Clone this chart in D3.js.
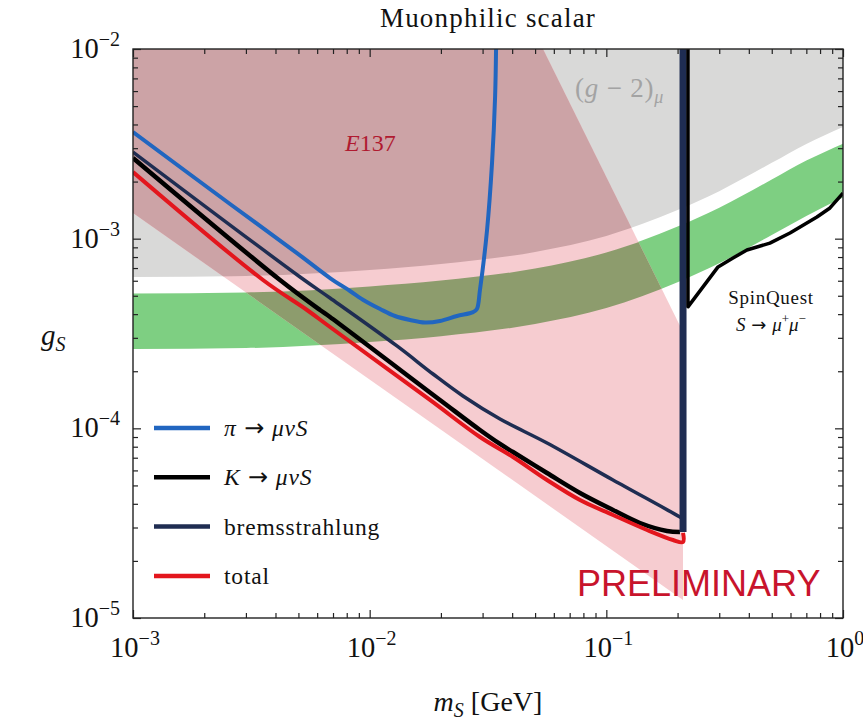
<!DOCTYPE html>
<html>
<head>
<meta charset="utf-8">
<script src="https://cdn.jsdelivr.net/npm/d3@7"></script>
<style>
  body { margin: 0; background: #ffffff; }
  svg { display: block; }
</style>
</head>
<body>
<svg id="chart" width="863" height="720" font-family="Liberation Serif, serif"></svg>
<script>
// ---------------- data ----------------
// (g-2)_mu: excluded region edge and favoured band, sampled in scalar mass [GeV]
const bandMass     = [1e-3, 3e-3, 1e-2, 2e-2, 5e-2, 0.1, 0.2, 0.3, 0.5, 0.7, 1.0];
const gm2Excluded  = [6.28e-4, 6.36e-4, 6.84e-4, 7.35e-4, 8.51e-4, 1.033e-3, 1.416e-3, 1.78e-3, 2.51e-3, 3.16e-3, 3.88e-3];
const gm2BandHigh  = [5.14e-4, 5.20e-4, 5.60e-4, 6.01e-4, 6.96e-4, 8.45e-4, 1.158e-3, 1.456e-3, 2.05e-3, 2.58e-3, 3.17e-3];
const gm2BandLow   = [2.62e-4, 2.65e-4, 2.85e-4, 3.06e-4, 3.55e-4, 4.31e-4, 5.90e-4, 7.42e-4, 1.047e-3, 1.318e-3, 1.65e-3];

// E137 beam-dump exclusion (polygon)
const e137Mass     = [1e-3, 5.40e-2, 0.2109, 0.2109, 1e-3];
const e137Coupling = [1e-2, 1e-2, 3.22e-4, 1.245e-5, 1.365e-3];

// projected sensitivities
const pionMass = [1e-3, 2.57e-3, 4.93e-3, 6.80e-3, 8.26e-3, 9.56e-3, 1.107e-2, 1.279e-2, 1.481e-2, 1.713e-2,
                  1.982e-2, 2.339e-2, 2.735e-2, 2.838e-2, 2.924e-2, 3.133e-2, 3.289e-2, 3.388e-2, 3.42e-2];
const pionCoupling = [3.65e-3, 1.523e-3, 8.40e-4, 6.20e-4, 5.30e-4, 4.69e-4, 4.257e-4, 3.911e-4, 3.726e-4, 3.614e-4,
                      3.681e-4, 3.911e-4, 4.10e-4, 4.257e-4, 5.36e-4, 1.11e-3, 2.51e-3, 5.58e-3, 1e-2];

const kaonMass = [1e-3, 4.18e-3, 6.17e-3, 6.80e-3, 1.982e-2, 2.925e-2, 3.554e-2, 4.033e-2, 5.616e-2,
                  7.740e-2, 0.1067, 0.1387, 0.1804, 0.2047];
const kaonCoupling = [2.663e-3, 6.055e-4, 4.206e-4, 3.864e-4, 1.411e-4, 9.80e-5, 8.27e-5, 7.50e-5, 5.813e-5,
                      4.562e-5, 3.711e-5, 3.168e-5, 2.875e-5, 2.84e-5];

const bremsMass = [1e-3, 5.08e-3, 6.80e-3, 1.304e-2, 1.852e-2, 2.479e-2, 3.554e-2, 5.616e-2, 0.1067, 0.2047, 0.2109];
const bremsCoupling = [2.863e-3, 6.28e-4, 4.866e-4, 2.718e-4, 1.934e-4, 1.481e-4, 1.120e-4, 8.369e-5,
                       5.341e-5, 3.408e-5, 3.327e-5];
// kinematic edge at m_S = 2 m_mu
const thresholdMass = [0.2109, 0.2109];
const thresholdCoupling = [2.84e-5, 1e-2];

const totalMass = [1e-3, 3.542e-3, 5.435e-3, 6.80e-3, 1.798e-2, 2.925e-2, 4.033e-2, 5.616e-2, 7.740e-2,
                   0.1067, 0.1485, 0.1913, 0.2109, 0.2109];
const totalCoupling = [2.246e-3, 6.055e-4, 4.206e-4, 3.422e-4, 1.411e-4, 9.00e-5, 7.063e-5, 5.341e-5, 4.19e-5,
                       3.493e-5, 2.911e-5, 2.577e-5, 2.515e-5, 2.807e-5];

// SpinQuest S -> mu+ mu-
const spinQuestMass = [0.2213, 0.2213, 0.2965, 0.3428, 0.3926, 0.4909, 0.597, 0.776, 0.881, 1.0];
const spinQuestCoupling = [1e-2, 4.37e-4, 7.10e-4, 7.91e-4, 8.71e-4, 9.48e-4, 1.072e-3, 1.30e-3, 1.452e-3, 1.74e-3];

// axis ticks
const xMajor = [1e-3, 1e-2, 1e-1, 1];
const yMajor = [1e-5, 1e-4, 1e-3, 1e-2];
const xTickExp = [-3, -2, -1, 0];
const yTickExp = [-5, -4, -3, -2];

// ---------------- layout ----------------
const plot = { left: 133, right: 843, top: 49, bottom: 618 };
const x = d3.scaleLog().domain([1e-3, 1]).range([plot.left, plot.right]);
const y = d3.scaleLog().domain([1e-5, 1e-2]).range([plot.bottom, plot.top]);

const colors = {
  gray: "#d9d9d8", green: "#7ecf82", pink: "#f6ccd0", mauve: "#cca3a6", olive: "#8d9c6d",
  pion: "#2166c0", kaon: "#000000", brems: "#1f2d52", total: "#e3161d"
};

const svg = d3.select("#chart");
svg.append("rect").attr("width", 863).attr("height", 720).attr("fill", "#ffffff");
const defs = svg.append("defs");
defs.append("clipPath").attr("id", "plotClip").append("rect")
  .attr("x", plot.left).attr("y", plot.top)
  .attr("width", plot.right - plot.left).attr("height", plot.bottom - plot.top);

const smooth = d3.line().x(d => x(d[0])).y(d => y(d[1])).curve(d3.curveCatmullRom.alpha(0.5));
const straight = d3.line().x(d => x(d[0])).y(d => y(d[1]));
const closedLine = d3.line().x(d => x(d[0])).y(d => y(d[1])).curve(d3.curveLinearClosed);

const e137Pts = d3.zip(e137Mass, e137Coupling);
defs.append("clipPath").attr("id", "e137Clip").append("path").attr("d", closedLine(e137Pts));

const excludedPts = d3.zip(bandMass, gm2Excluded);
const bandPts = d3.zip(bandMass, gm2BandLow, gm2BandHigh);

const gm2Area = d3.area().x(d => x(d[0])).y0(d => y(d[1])).y1(y(1e-2) - 5).curve(d3.curveMonotoneX);
const bandArea = d3.area().x(d => x(d[0])).y0(d => y(d[1])).y1(d => y(d[2])).curve(d3.curveMonotoneX);

const regions = svg.append("g").attr("clip-path", "url(#plotClip)");
regions.append("path").attr("d", gm2Area(excludedPts)).attr("fill", colors.gray);
regions.append("path").attr("d", bandArea(bandPts)).attr("fill", colors.green);
regions.append("path").attr("d", closedLine(e137Pts)).attr("fill", colors.pink);
const overlap = regions.append("g").attr("clip-path", "url(#e137Clip)");
overlap.append("path").attr("d", gm2Area(excludedPts)).attr("fill", colors.mauve);
overlap.append("path").attr("d", bandArea(bandPts)).attr("fill", colors.olive);

// ---------------- curves ----------------
const curves = svg.append("g").attr("clip-path", "url(#plotClip)")
  .attr("fill", "none").attr("stroke-linejoin", "round").attr("stroke-linecap", "butt");

const series = [
  { key: "pion", mass: pionMass, coupling: pionCoupling, color: colors.pion, width: 4,
    label: [["π", "i"], [" → ", "a"], ["μνS", "i"]] },
  { key: "kaon", mass: kaonMass, coupling: kaonCoupling, color: colors.kaon, width: 4.5,
    label: [["K", "i"], [" → ", "a"], ["μνS", "i"]] },
  { key: "brems", mass: bremsMass, coupling: bremsCoupling, color: colors.brems, width: 3.5,
    label: [["bremsstrahlung", "r"]] },
  { key: "total", mass: totalMass, coupling: totalCoupling, color: colors.total, width: 4,
    label: [["total", "r"]] }
];

series.forEach(s => {
  curves.append("path").attr("d", smooth(d3.zip(s.mass, s.coupling)))
    .attr("stroke", s.color).attr("stroke-width", s.width);
  if (s.key === "brems") {
    curves.append("path").attr("d", straight(d3.zip(thresholdMass, thresholdCoupling)))
      .attr("stroke", colors.brems).attr("stroke-width", 7);
  }
});

curves.append("path").attr("d", straight(d3.zip(spinQuestMass, spinQuestCoupling)))
  .attr("stroke", "#000").attr("stroke-width", 3.5);

// ---------------- frame & ticks ----------------
const frame = svg.append("g");
frame.append("rect").attr("x", plot.left).attr("y", plot.top)
  .attr("width", plot.right - plot.left).attr("height", plot.bottom - plot.top)
  .attr("fill", "none").attr("stroke", "#222").attr("stroke-width", 1.4);

function minorTicks(majors) {
  const out = [];
  majors.slice(0, -1).forEach(m => { for (let k = 2; k <= 9; k++) out.push(m * k); });
  return out;
}
const xMinor = minorTicks(xMajor), yMinor = minorTicks(yMajor);

function drawTicks(axisFn, scale, values, size, transform) {
  const g = frame.append("g").attr("transform", transform)
    .call(axisFn(scale).tickValues(values).tickSize(size).tickFormat(""));
  g.select(".domain").remove();
  g.selectAll(".tick line").attr("stroke", "#222").attr("stroke-width", 1.2);
}
drawTicks(d3.axisBottom, x, xMajor, -8, `translate(0,${plot.bottom})`);
drawTicks(d3.axisBottom, x, xMinor, -5, `translate(0,${plot.bottom})`);
drawTicks(d3.axisTop, x, xMajor, -8, `translate(0,${plot.top})`);
drawTicks(d3.axisTop, x, xMinor, -5, `translate(0,${plot.top})`);
drawTicks(d3.axisLeft, y, yMajor, -8, `translate(${plot.left},0)`);
drawTicks(d3.axisLeft, y, yMinor, -5, `translate(${plot.left},0)`);
drawTicks(d3.axisRight, y, yMajor, -8, `translate(${plot.right},0)`);
drawTicks(d3.axisRight, y, yMinor, -5, `translate(${plot.right},0)`);

const serif = "Liberation Serif, serif";
const arrowFont = "DejaVu Sans, sans-serif";

function powLabel(px, py, exp, anchor) {
  const t = svg.append("text").attr("x", px).attr("y", py).attr("font-family", serif)
    .attr("text-anchor", anchor).attr("font-size", 28.5).attr("fill", "#111");
  t.append("tspan").text("10");
  t.append("tspan").attr("dy", -12).attr("font-size", 20).text(exp === 0 ? "0" : "−" + (-exp));
}
xMajor.forEach((v, i) => powLabel(x(v) + 2, 657, xTickExp[i], "middle"));
yMajor.forEach((v, i) => powLabel(120, y(v) + 9, yTickExp[i], "end"));

// axis titles
const yTitle = svg.append("text").attr("x", 41).attr("y", 345).attr("font-family", serif)
  .attr("font-size", 29).attr("fill", "#111");
yTitle.append("tspan").attr("font-style", "italic").text("g");
yTitle.append("tspan").attr("font-style", "italic").attr("font-size", 20).attr("dy", 6).text("S");

const xTitle = svg.append("text").attr("x", 488).attr("y", 711).attr("text-anchor", "middle")
  .attr("font-family", serif).attr("font-size", 28).attr("fill", "#111");
xTitle.append("tspan").attr("font-style", "italic").text("m");
xTitle.append("tspan").attr("font-style", "italic").attr("font-size", 20).attr("dy", 6).text("S");
xTitle.append("tspan").attr("dy", -6).text(" [GeV]");

svg.append("text").attr("x", 488).attr("y", 27).attr("text-anchor", "middle").attr("font-family", serif)
  .attr("font-size", 27).attr("letter-spacing", 1.2).attr("fill", "#111").text("Muonphilic scalar");

// ---------------- legend ----------------
const legend = svg.append("g");
const legendTop = 428, legendStep = 49.3;
series.forEach((s, i) => {
  const ly = legendTop + i * legendStep;
  legend.append("line").attr("x1", 154).attr("x2", 210).attr("y1", ly).attr("y2", ly)
    .attr("stroke", s.color).attr("stroke-width", 4.5);
  const t = legend.append("text").attr("x", 224).attr("y", ly + 8).attr("font-family", serif)
    .attr("font-size", 23.5).attr("letter-spacing", 0.8).attr("fill", "#111");
  s.label.forEach(([str, kind]) => {
    const sp = t.append("tspan").text(str);
    if (kind === "i") sp.attr("font-style", "italic");
    if (kind === "a") sp.attr("font-family", arrowFont).attr("font-size", 24).attr("letter-spacing", 0);
  });
});

// ---------------- region labels ----------------
const e137Label = svg.append("text").attr("x", 345).attr("y", 151).attr("font-family", serif)
  .attr("font-size", 24).attr("fill", "#b01a30");
e137Label.append("tspan").attr("font-style", "italic").text("E");
e137Label.append("tspan").text("137");

const gm2Label = svg.append("text").attr("x", 575).attr("y", 97).attr("font-family", serif)
  .attr("font-size", 27).attr("letter-spacing", 0.8).attr("fill", "#a3a3a3");
gm2Label.append("tspan").text("(");
gm2Label.append("tspan").attr("font-style", "italic").text("g");
gm2Label.append("tspan").text(" − 2)");
gm2Label.append("tspan").attr("font-style", "italic").attr("font-size", 18).attr("dy", 6).text("μ");

svg.append("text").attr("x", 771).attr("y", 304).attr("text-anchor", "middle").attr("font-family", serif)
  .attr("font-size", 19).attr("letter-spacing", 0.7).attr("fill", "#111").text("SpinQuest");
const sq = svg.append("text").attr("x", 771).attr("y", 331).attr("text-anchor", "middle")
  .attr("font-family", serif).attr("font-size", 19).attr("fill", "#111");
sq.append("tspan").attr("font-style", "italic").text("S");
sq.append("tspan").attr("font-family", arrowFont).attr("font-size", 18).text(" → ");
sq.append("tspan").attr("font-style", "italic").text("μ");
sq.append("tspan").attr("font-size", 13).attr("dy", -8).text("+");
sq.append("tspan").attr("font-style", "italic").attr("dy", 8).text("μ");
sq.append("tspan").attr("font-size", 13).attr("dy", -8).text("−");

svg.append("text").attr("x", 577).attr("y", 596)
  .attr("font-family", "Liberation Sans, Arial, sans-serif").attr("font-size", 36)
  .attr("fill", "#c8142c").text("PRELIMINARY");
</script>
</body>
</html>
